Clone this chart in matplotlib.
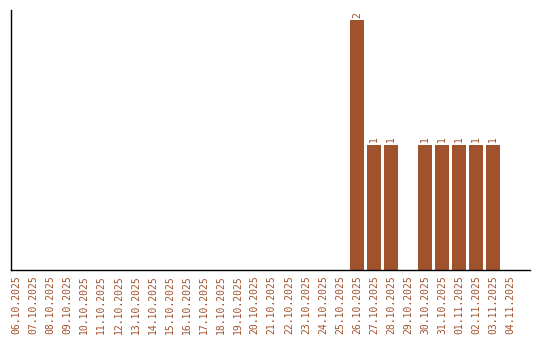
import matplotlib
matplotlib.use("Agg")
import matplotlib.pyplot as plt
import numpy as np

dates = ["06.10.2025", "07.10.2025", "08.10.2025", "09.10.2025", "10.10.2025",
         "11.10.2025", "12.10.2025", "13.10.2025", "14.10.2025", "15.10.2025",
         "16.10.2025", "17.10.2025", "18.10.2025", "19.10.2025", "20.10.2025",
         "21.10.2025", "22.10.2025", "23.10.2025", "24.10.2025", "25.10.2025",
         "26.10.2025", "27.10.2025", "28.10.2025", "29.10.2025", "30.10.2025",
         "31.10.2025", "01.11.2025", "02.11.2025", "03.11.2025", "04.11.2025"]
counts = [0, 0, 0, 0, 0, 0, 0, 0, 0, 0,
          0, 0, 0, 0, 0, 0, 0, 0, 0, 0,
          2, 1, 1, 0, 1, 1, 1, 1, 1, 0]

color = "#A0522D"
plt.rcParams['font.family'] = ['DejaVu Sans Mono']

fig = plt.figure(figsize=(5.4, 3.4), dpi=100)
ax = fig.add_axes([11/540, 1 - 270/340, (530 - 11)/540, (270 - 10)/340])

x = np.arange(len(dates))
bars = ax.bar(x, counts, width=0.82, color=color)
for xi, c in zip(x, counts):
    if c > 0:
        ax.text(xi, c + 0.02, str(c), rotation=90, ha='center', va='bottom',
                fontsize=7, color=color)

ax.set_xticks(x)
ax.set_xticklabels(dates, rotation=90, fontsize=7, color=color)
ax.tick_params(axis='x', length=0, pad=3.5)
ax.set_yticks([])
ax.set_xlim(-0.3, 30.15)
ax.set_ylim(0, 2.08)
for s in ['top', 'right']:
    ax.spines[s].set_visible(False)
ax.spines['left'].set_linewidth(1)
ax.spines['bottom'].set_linewidth(1)

fig.savefig("out.png", dpi=100)
